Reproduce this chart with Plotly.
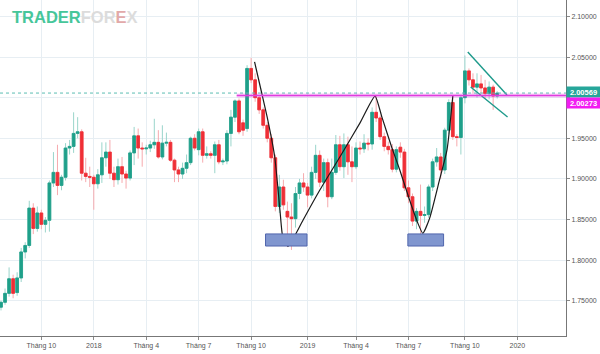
import plotly.graph_objects as go
import pandas as pd

# ---------------- data (weekly candles) ----------------
start_week = "2017-07-24"

open_ = [1.742, 1.748, 1.759, 1.777, 1.760, 1.778, 1.810, 1.818, 1.864, 1.839,
         1.858, 1.844, 1.849, 1.895, 1.908, 1.892, 1.902, 1.938, 1.940, 1.956,
         1.958, 1.907, 1.903, 1.902, 1.894, 1.905, 1.926, 1.933, 1.907, 1.899,
         1.915, 1.906, 1.901, 1.932, 1.953, 1.938, 1.937, 1.938, 1.942, 1.945,
         1.927, 1.944, 1.945, 1.923, 1.911, 1.906, 1.913, 1.920, 1.950, 1.936,
         1.958, 1.929, 1.931, 1.929, 1.942, 1.921, 1.922, 1.956, 1.976, 1.996,
         1.969, 1.962, 2.036, 2.022, 2.000, 1.985, 1.966, 1.950, 1.926, 1.866,
         1.890, 1.860, 1.853, 1.851, 1.882, 1.895, 1.890, 1.880, 1.908, 1.929,
         1.896, 1.920, 1.878, 1.908, 1.942, 1.915, 1.942, 1.921, 1.915, 1.938,
         1.937, 1.944, 1.943, 1.982, 1.975, 1.952, 1.940, 1.936, 1.912, 1.939,
         1.933, 1.889, 1.878, 1.848, 1.860, 1.855, 1.856, 1.890, 1.921, 1.927,
         1.911, 1.960, 1.994, 1.952, 1.951, 2.000, 2.033, 2.022, 2.013, 2.017,
         2.012, 2.005, 2.013, 2.002]

high_ = [1.750, 1.765, 1.791, 1.782, 1.785, 1.815, 1.822, 1.873, 1.870, 1.866,
         1.862, 1.853, 1.898, 1.933, 1.942, 1.905, 1.944, 1.948, 1.982, 1.976,
         1.961, 1.926, 1.915, 1.905, 1.912, 1.945, 1.945, 1.948, 1.915, 1.925,
         1.927, 1.910, 1.935, 1.964, 1.962, 1.945, 1.942, 1.947, 1.974, 1.960,
         1.966, 1.957, 1.948, 1.925, 1.915, 1.920, 1.930, 1.952, 1.955, 1.962,
         1.962, 1.940, 1.934, 1.946, 1.948, 1.925, 1.960, 1.985, 1.998, 1.999,
         1.973, 2.040, 2.049, 2.030, 2.003, 1.988, 1.970, 1.955, 1.930, 1.905,
         1.899, 1.872, 1.870, 1.890, 1.900, 1.907, 1.895, 1.915, 1.942, 1.935,
         1.925, 1.925, 1.925, 1.954, 1.953, 1.956, 1.952, 1.940, 1.945, 1.946,
         1.955, 1.950, 1.988, 2.003, 1.978, 1.957, 1.946, 1.943, 1.940, 1.945,
         1.937, 1.898, 1.882, 1.864, 1.893, 1.866, 1.893, 1.925, 1.938, 1.932,
         1.963, 1.998, 2.002, 1.955, 2.003, 2.052, 2.036, 2.030, 2.030, 2.028,
         2.022, 2.020, 2.016, 2.008]

low_ = [1.738, 1.745, 1.755, 1.753, 1.756, 1.773, 1.802, 1.815, 1.832, 1.835,
        1.838, 1.834, 1.835, 1.890, 1.880, 1.886, 1.898, 1.930, 1.932, 1.950,
        1.898, 1.896, 1.890, 1.862, 1.888, 1.895, 1.915, 1.900, 1.890, 1.893,
        1.895, 1.888, 1.898, 1.917, 1.925, 1.915, 1.930, 1.933, 1.937, 1.925,
        1.924, 1.940, 1.921, 1.896, 1.896, 1.900, 1.907, 1.917, 1.935, 1.929,
        1.920, 1.925, 1.925, 1.907, 1.918, 1.917, 1.918, 1.940, 1.970, 1.955,
        1.953, 1.958, 2.018, 1.995, 1.980, 1.962, 1.945, 1.920, 1.860, 1.858,
        1.862, 1.816, 1.8125, 1.840, 1.875, 1.884, 1.865, 1.876, 1.900, 1.890,
        1.885, 1.865, 1.875, 1.905, 1.910, 1.901, 1.905, 1.896, 1.912, 1.930,
        1.932, 1.935, 1.936, 1.970, 1.948, 1.934, 1.930, 1.908, 1.908, 1.926,
        1.885, 1.870, 1.842, 1.838, 1.832, 1.846, 1.852, 1.885, 1.915, 1.900,
        1.906, 1.955, 1.948, 1.940, 1.930, 1.993, 2.015, 2.005, 2.000, 2.005,
        1.999, 1.998, 1.985, 1.999]

close_ = [1.748, 1.759, 1.777, 1.759, 1.778, 1.810, 1.818, 1.864, 1.839, 1.858,
          1.844, 1.849, 1.895, 1.908, 1.892, 1.902, 1.938, 1.940, 1.956, 1.958,
          1.907, 1.903, 1.902, 1.894, 1.905, 1.926, 1.933, 1.907, 1.899, 1.915,
          1.906, 1.901, 1.932, 1.953, 1.938, 1.937, 1.938, 1.942, 1.945, 1.927,
          1.944, 1.945, 1.923, 1.911, 1.906, 1.913, 1.920, 1.950, 1.938, 1.958,
          1.929, 1.931, 1.929, 1.942, 1.921, 1.922, 1.956, 1.976, 1.996, 1.958,
          1.960, 2.036, 2.022, 2.000, 1.985, 1.966, 1.950, 1.926, 1.866, 1.890,
          1.868, 1.853, 1.851, 1.882, 1.895, 1.890, 1.880, 1.908, 1.929, 1.896,
          1.920, 1.878, 1.908, 1.942, 1.915, 1.942, 1.921, 1.915, 1.938, 1.937,
          1.944, 1.943, 1.982, 1.975, 1.952, 1.940, 1.936, 1.912, 1.936, 1.933,
          1.889, 1.878, 1.848, 1.860, 1.855, 1.856, 1.890, 1.921, 1.927, 1.911,
          1.960, 1.994, 1.952, 1.951, 2.000, 2.033, 2.022, 2.013, 2.017, 2.012,
          2.005, 2.013, 2.002, 2.00569]

# axis ticks
tick_dates = ["2017-10-02", "2018-01-01", "2018-04-02", "2018-07-02", "2018-10-01",
              "2019-01-07", "2019-04-01", "2019-07-01", "2019-10-07", "2020-01-06"]
tick_labels = ["Tháng 10", "2018", "Tháng 4", "Tháng 7", "Tháng 10",
               "2019", "Tháng 4", "Tháng 7", "Tháng 10", "2020"]
price_ticks = [1.75, 1.80, 1.85, 1.90, 1.95, 2.00, 2.05, 2.10]

# drawings (date, price)
w_dates = ["2018-10-07", "2018-10-19", "2018-10-30", "2018-11-11", "2018-11-20",
           "2018-11-25", "2018-12-04", "2018-12-12", "2018-12-30", "2019-01-28",
           "2019-03-04", "2019-04-08", "2019-05-04", "2019-05-16", "2019-06-02",
           "2019-06-16", "2019-07-03", "2019-07-17", "2019-07-26", "2019-08-07",
           "2019-08-24", "2019-09-06", "2019-09-16"]
w_prices = [2.044, 2.007, 1.9725, 1.927, 1.862, 1.828, 1.817, 1.825, 1.849, 1.886,
            1.927, 1.969, 2.002, 1.976, 1.939, 1.911, 1.874, 1.846, 1.833, 1.852,
            1.899, 1.936, 2.002]

pennant_upper_dates = ["2019-10-12", "2019-12-19"]
pennant_upper_prices = [2.0563, 2.0033]
pennant_lower_dates = ["2019-10-17", "2019-12-20"]
pennant_lower_prices = [2.0132, 1.9762]

zone_start = ["2018-10-26", "2019-06-30"]
zone_end = ["2019-01-06", "2019-08-31"]
zone_low = 1.8173
zone_high = 1.8322

resistance_level = 2.00273
resistance_start = "2018-09-06"
last_price = 2.00569

x_range = ["2017-07-22 06:00", "2020-03-30 10:00"]
y_range = [1.7065, 2.1203]

# ---------------- figure ----------------
dates = pd.date_range(start_week, periods=len(close_), freq="7D")
body_hi = [max(o, c) for o, c in zip(open_, close_)]
body_lo = [min(o, c) for o, c in zip(open_, close_)]

UP = "#1fa08a"
DOWN = "#ef2f36"
UP_WICK = "#9ad5cb"
DOWN_WICK = "#f6aaae"

fig = go.Figure()
# pale wicks
fig.add_trace(go.Candlestick(
    x=dates, open=open_, high=high_, low=low_, close=close_,
    increasing=dict(line=dict(color=UP_WICK, width=1), fillcolor=UP_WICK),
    decreasing=dict(line=dict(color=DOWN_WICK, width=1), fillcolor=DOWN_WICK),
    whiskerwidth=0, hoverinfo="skip", showlegend=False))
# solid bodies
fig.add_trace(go.Candlestick(
    x=dates, open=open_, high=body_hi, low=body_lo, close=close_,
    increasing=dict(line=dict(color=UP, width=0.8), fillcolor=UP),
    decreasing=dict(line=dict(color=DOWN, width=0.8), fillcolor=DOWN),
    whiskerwidth=0, hoverinfo="skip", showlegend=False))

# W pattern curve
fig.add_trace(go.Scatter(x=w_dates, y=w_prices, mode="lines",
                         line=dict(color="#1b1b1b", width=1.2, shape="spline", smoothing=0.5),
                         hoverinfo="skip", showlegend=False))
# pennant
for xs, ys in [(pennant_upper_dates, pennant_upper_prices),
               (pennant_lower_dates, pennant_lower_prices)]:
    fig.add_trace(go.Scatter(x=xs, y=ys, mode="lines",
                             line=dict(color="#1d9a8b", width=1.4),
                             hoverinfo="skip", showlegend=False))

shapes = []
for x0, x1 in zip(zone_start, zone_end):
    shapes.append(dict(type="rect", xref="x", yref="y", x0=x0, x1=x1,
                       y0=zone_low, y1=zone_high, fillcolor="#8096cf",
                       line=dict(color="#5166ad", width=1), layer="above"))
shapes.append(dict(type="line", xref="paper", yref="y", x0=0, x1=1,
                   y0=last_price, y1=last_price,
                   line=dict(color="#5bbdb2", width=1, dash="dot")))
shapes.append(dict(type="line", xref="x", yref="y", x0=resistance_start, x1=x_range[1],
                   y0=resistance_level, y1=resistance_level,
                   line=dict(color="rgba(230,60,230,0.25)", width=4)))
shapes.append(dict(type="line", xref="x", yref="y", x0=resistance_start, x1=x_range[1],
                   y0=resistance_level, y1=resistance_level,
                   line=dict(color="#e03ce0", width=1.5)))

annotations = [
    dict(xref="paper", yref="y", x=1, y=last_price, xanchor="left", yanchor="middle",
         text="<b>%.5f</b>" % last_price, showarrow=False, bgcolor="#26a69a",
         font=dict(size=7.5, color="white"), width=33, height=10, borderpad=0,
         yshift=1, align="center"),
    dict(xref="paper", yref="y", x=1, y=resistance_level, xanchor="left", yanchor="middle",
         text="<b>%.5f</b>" % resistance_level, showarrow=False, bgcolor="#f21cf2",
         font=dict(size=7.5, color="white"), width=33, height=10, borderpad=0,
         yshift=-8, align="center"),
    dict(xref="paper", yref="paper", x=10 / 566, y=1 - 6 / 336, xanchor="left", yanchor="top",
         showarrow=False,
         text=("<b><span style='color:#47c69a'>TRADER</span>"
               "<span style='color:#dcdcdc'>FOR</span>"
               "<span style='color:#e2a9a9'>E</span>"
               "<span style='color:#dcdcdc'>X</span></b>"),
         font=dict(size=16.5, family="Liberation Sans, Arial")),
]

price_text = ["" if abs(v - 2.0) < 1e-9 else "%.5f" % v for v in price_ticks]

fig.update_layout(
    width=600, height=354,
    margin=dict(l=0, r=34, t=0, b=18),
    paper_bgcolor="white", plot_bgcolor="white",
    font=dict(family="Liberation Sans, Arial", size=7, color="#4a4a4a"),
    showlegend=False,
    boxgap=0.25, boxgroupgap=0.1,
    shapes=shapes, annotations=annotations,
    xaxis=dict(type="date", range=x_range, tickvals=tick_dates, ticktext=tick_labels,
               showgrid=True, gridcolor="#e7eef3", gridwidth=1,
               ticks="outside", ticklen=3, tickcolor="#8a8a8a",
               showline=True, linecolor="#777777", linewidth=1,
               tickfont=dict(size=7, color="#555555"),
               rangeslider=dict(visible=False), zeroline=False, fixedrange=True),
    yaxis=dict(side="right", range=y_range, tickvals=price_ticks, ticktext=price_text,
               showgrid=True, gridcolor="#e7eef3", gridwidth=1,
               ticks="outside", ticklen=3, tickcolor="#8a8a8a",
               showline=True, linecolor="#777777", linewidth=1,
               tickfont=dict(size=7, color="#555555"), zeroline=False, fixedrange=True),
)

fig.write_html("out.html")
